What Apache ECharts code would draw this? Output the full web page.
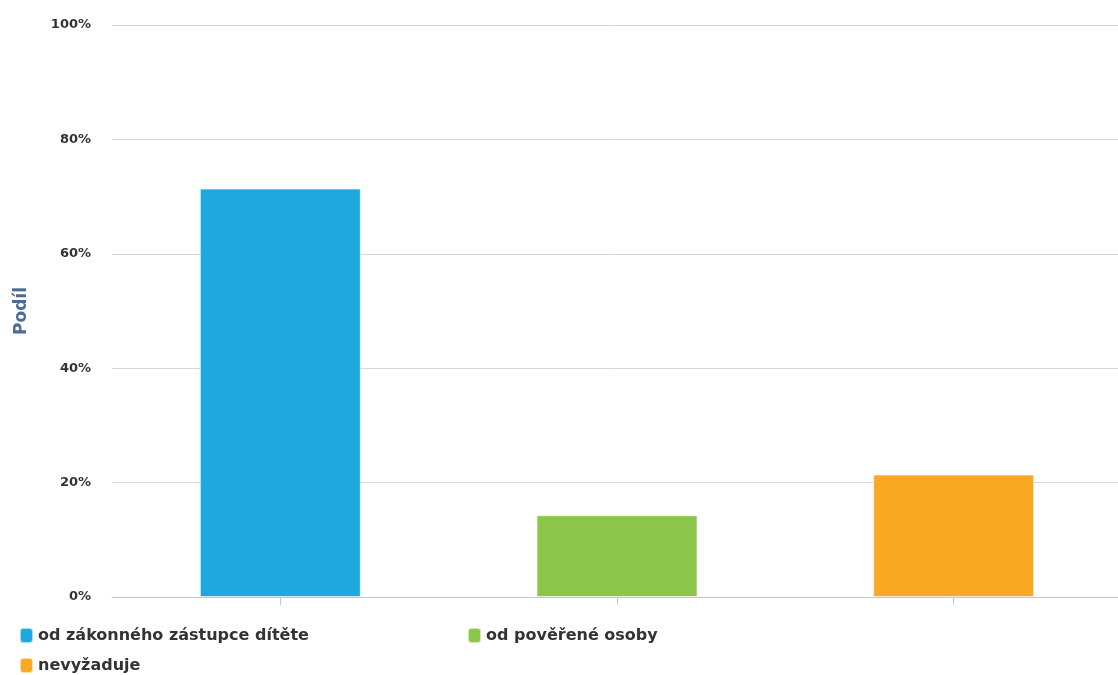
<!DOCTYPE html>
<html>
<head>
<meta charset="utf-8">
<script src="https://cdn.jsdelivr.net/npm/echarts@6/dist/echarts.min.js"></script>
<style>
  html, body { margin: 0; padding: 0; background: #fff; }
  #chart { width: 1118px; height: 675px; }
</style>
</head>
<body>
<div id="chart"></div>
<script>
  // kategorie a podíly (v %)
  var categories = ['od zákonného zástupce dítěte', 'od pověřené osoby', 'nevyžaduje'];
  var shares = [71.4, 14.3, 21.4];
  var colors = ['#1fa8df', '#8bc54a', '#f9a823'];
  var yTicks = [0, 20, 40, 60, 80, 100];

  var labelFont = 'DejaVu Sans';

  var series = categories.map(function (name, i) {
      var row = categories.map(function (c, j) { return j === i ? shares[i] : '-'; });
      return {
          name: name,
          type: 'bar',
          barWidth: 161,
          barGap: '-100%',
          itemStyle: { color: colors[i], borderColor: 'rgba(255,255,255,0.6)', borderWidth: 1 },
          data: row
      };
  });

  // legenda: tři samostatné bloky kvůli rozmístění
  var legendPos = [
      { left: 14, top: 622 },
      { left: 462, top: 622 },
      { left: 14, top: 652 }
  ];
  var legends = categories.map(function (name, i) {
      return {
          data: [name],
          left: legendPos[i].left,
          top: legendPos[i].top,
          icon: 'roundRect',
          itemWidth: 13,
          itemHeight: 15,
          itemGap: 0,
          textStyle: { color: '#333', fontSize: 16, fontWeight: 'bold', fontFamily: labelFont }
      };
  });

  var option = {
      animation: false,
      grid: { left: 112, width: 1010, top: 25, bottom: 78, outerBoundsMode: 'none' },
      legend: legends,
      xAxis: {
          type: 'category',
          data: categories,
          z: 5,
          axisLine: { show: true, lineStyle: { color: '#b9c8e0', width: 1 } },
          axisTick: { show: true, alignWithLabel: true, interval: 0, length: 8, lineStyle: { color: '#b9c8e0', width: 1 } },
          axisLabel: { show: true, interval: 0, formatter: function () { return ''; } }
      },
      yAxis: {
          type: 'value',
          min: yTicks[0],
          max: yTicks[yTicks.length - 1],
          interval: 20,
          name: 'Podíl',
          nameLocation: 'middle',
          nameGap: 82,
          nameTextStyle: { color: '#4a6d96', fontSize: 17, fontWeight: 'bold', fontFamily: labelFont },
          axisLine: { show: false },
          axisTick: { show: false },
          splitLine: { lineStyle: { color: '#d6d6d6', width: 1 } },
          axisLabel: {
              margin: 21,
              color: '#333',
              fontSize: 13,
              fontWeight: 'bold',
              fontFamily: labelFont,
              formatter: '{value}%'
          }
      },
      series: series
  };

  var chart = echarts.init(document.getElementById('chart'));
  chart.setOption(option);
</script>
</body>
</html>
